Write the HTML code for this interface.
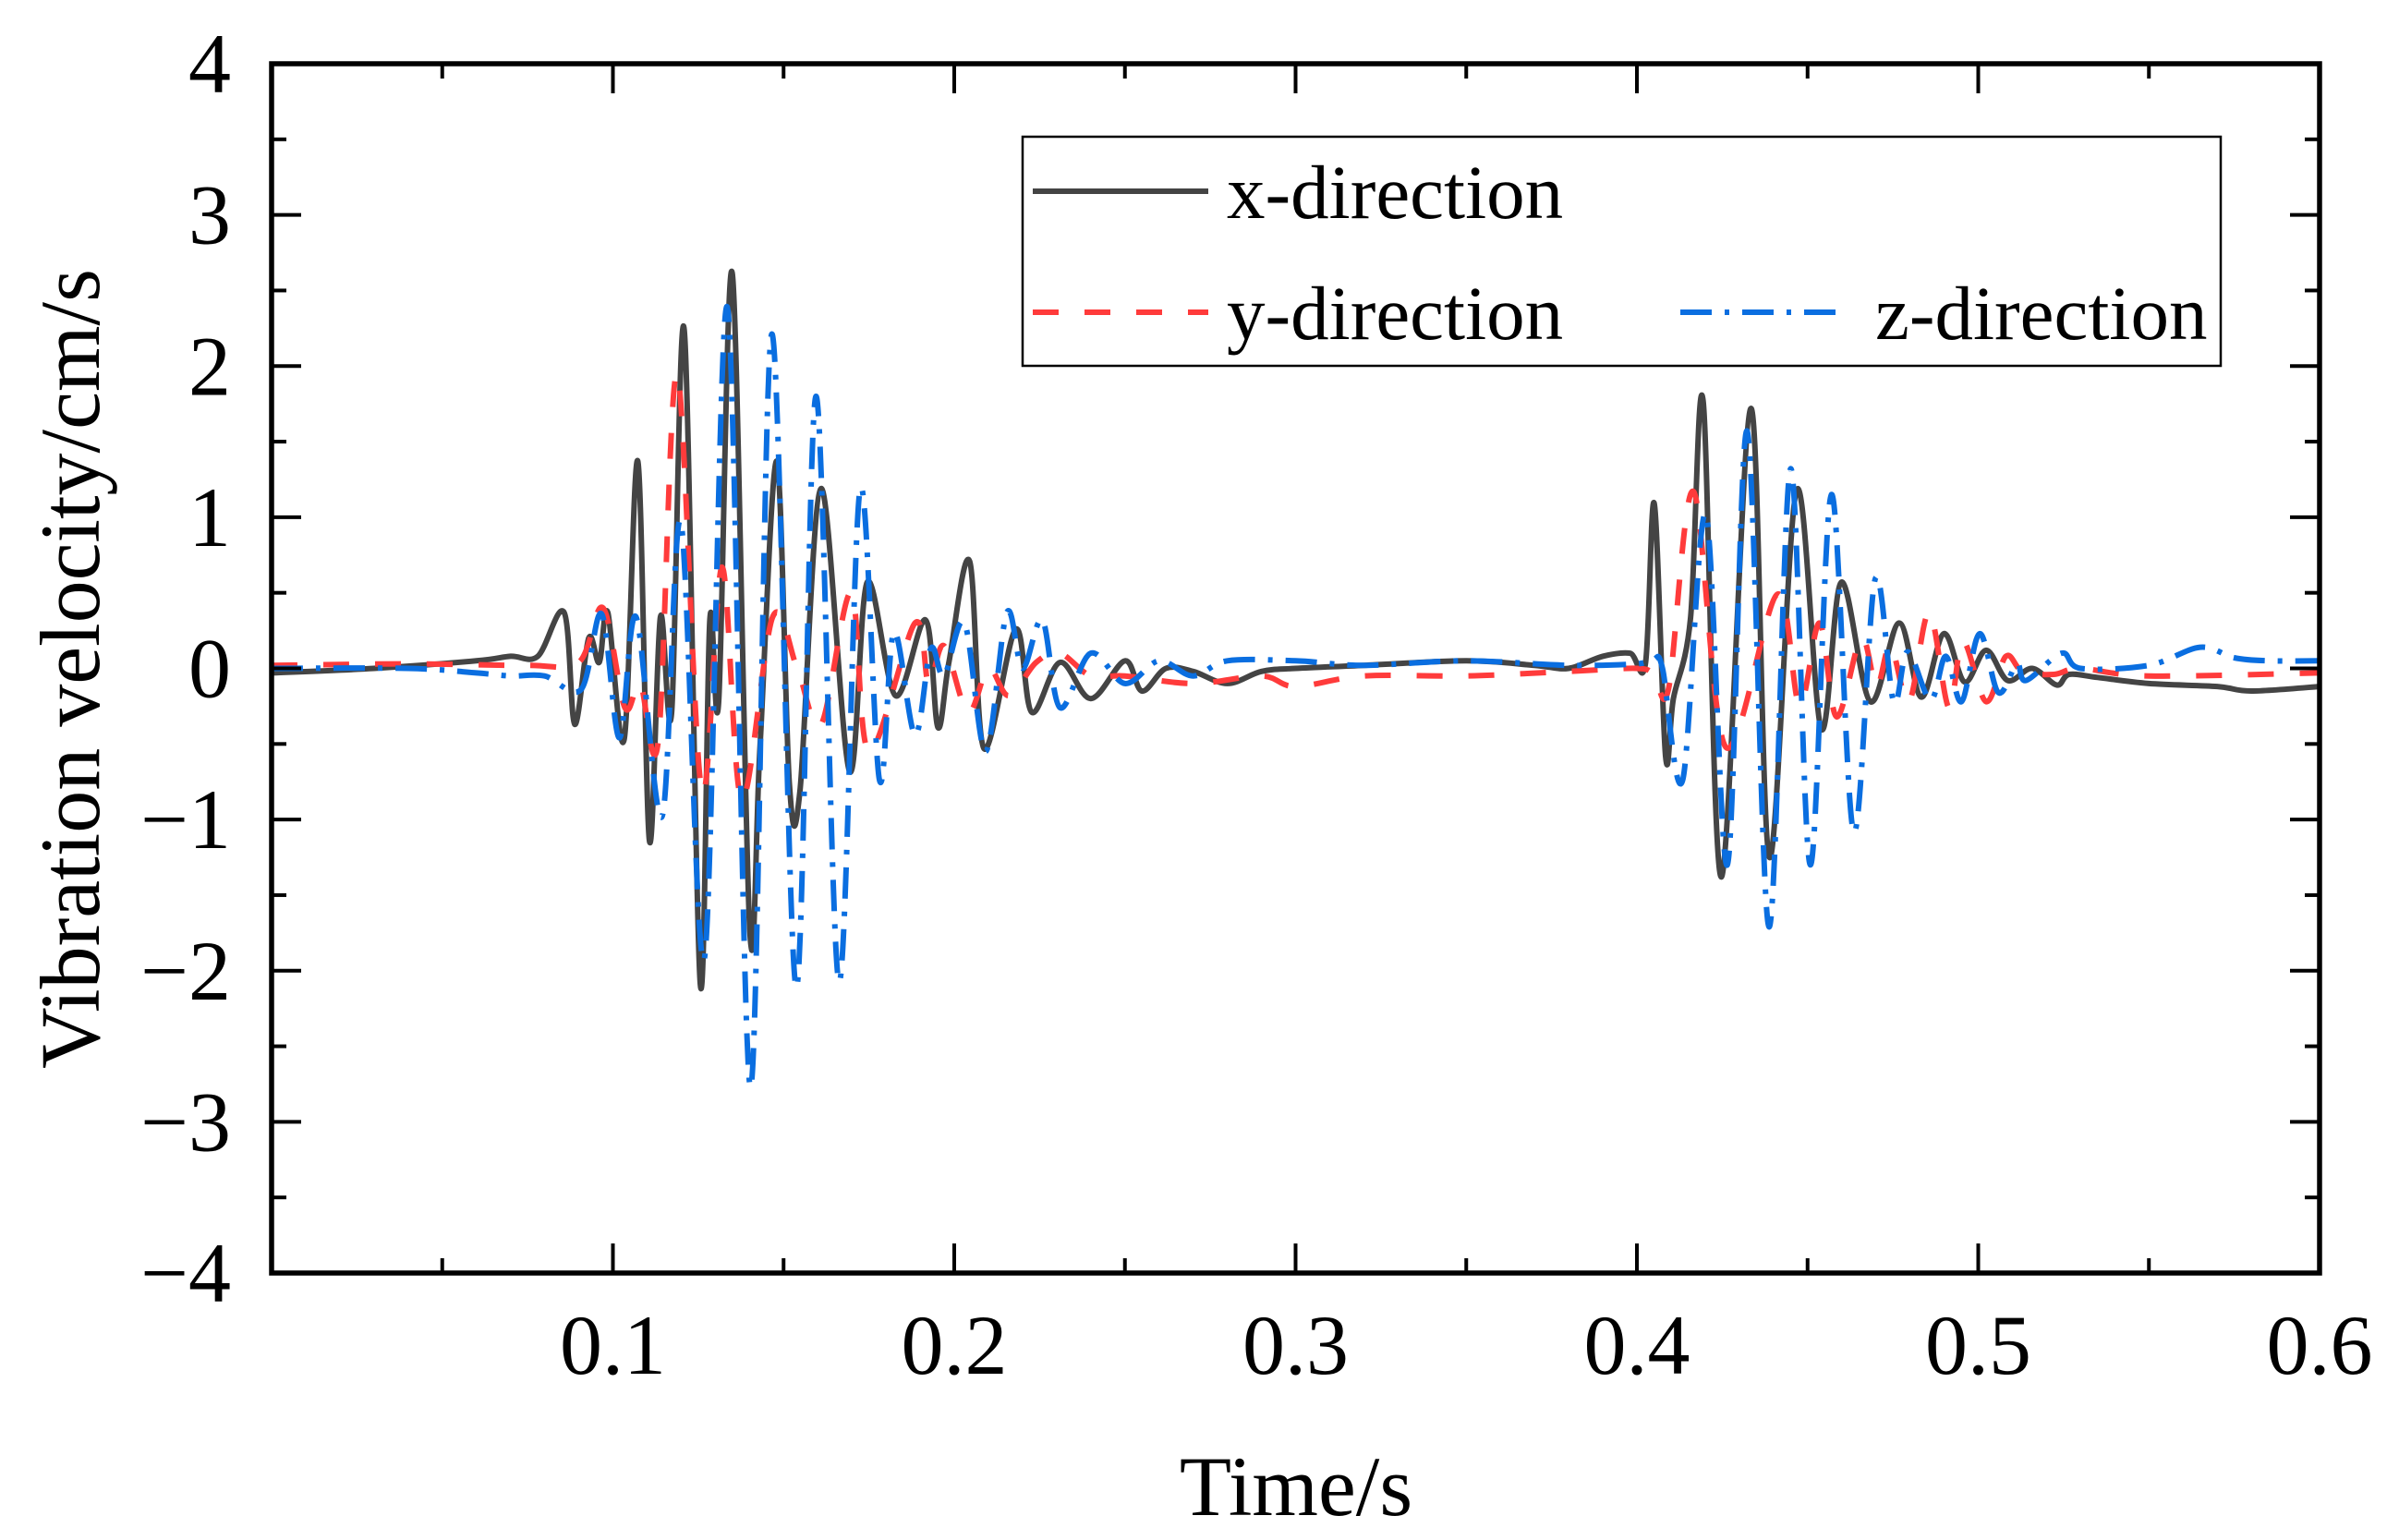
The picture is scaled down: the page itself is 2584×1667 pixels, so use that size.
<!DOCTYPE html>
<html><head><meta charset="utf-8"><title>Vibration velocity</title>
<style>
html,body{margin:0;padding:0;background:#fff;}
svg{display:block;font-family:"Liberation Serif","Times New Roman",serif;}
</style></head>
<body>
<svg id="chart" width="2584" height="1667" viewBox="0 0 2584 1667" xmlns="http://www.w3.org/2000/svg">
<defs><clipPath id="plotclip"><rect x="294" y="69" width="2217" height="1309"/></clipPath></defs>
<g id="series" clip-path="url(#plotclip)"></g>
<g id="axes"></g>
<text x="1403" y="1640" font-size="92" text-anchor="middle">Time/s</text>
<text transform="translate(107,724) rotate(-90)" font-size="92" text-anchor="middle">Vibration velocity/cm/s</text>
<g>
<rect x="1107" y="148" width="1297" height="248" fill="#fff" stroke="#000" stroke-width="2.5"/>
<g>
<line x1="1118" y1="207" x2="1308" y2="207" stroke="#444" stroke-width="6"/>
<text x="1328" y="236" font-size="83">x-direction</text></g>
<g>
<line x1="1118" y1="338" x2="1308" y2="338" stroke="#ff3b3b" stroke-width="6" stroke-dasharray="28 28"/>
<text x="1328" y="367" font-size="83">y-direction</text></g>
<g>
<line x1="1819" y1="338" x2="1994" y2="338" stroke="#0a6ee0" stroke-width="6" stroke-dasharray="34 14 5 14"/>
<text x="2030" y="367" font-size="83">z-direction</text></g>
</g>
</svg>
<script>
// ---- data ----
const xTimes = [0,0.03,0.06,0.07,0.078,0.0857,0.0888,0.0929,0.096,0.0985,0.1033,0.1073,0.1107,0.1139,0.1172,0.1209,0.1256,0.1284,0.131,0.135,0.1401,0.1431,0.148,0.1517,0.1548,0.161,0.1693,0.1745,0.1828,0.1916,0.1952,0.1985,0.2045,0.2087,0.218,0.2227,0.231,0.24,0.25,0.255,0.262,0.27,0.28,0.29,0.3,0.32,0.35,0.37,0.38,0.39,0.398,0.4025,0.4051,0.4084,0.4107,0.4157,0.4194,0.4247,0.4334,0.4388,0.4468,0.454,0.4599,0.4684,0.4768,0.4833,0.4899,0.496,0.5023,0.5086,0.5158,0.523,0.5266,0.535,0.55,0.57,0.58,0.6];
const xValues = [-0.03,0.0,0.05,0.08,0.08,0.37,-0.37,0.2,0.04,0.37,-0.47,1.37,-1.14,0.34,-0.29,2.24,-2.09,0.32,-0.22,2.61,-1.74,-0.51,1.37,-0.76,-0.81,1.19,-0.68,0.57,-0.18,0.32,-0.39,0.05,0.71,-0.53,0.26,-0.29,0.04,-0.2,0.05,-0.15,0.0,-0.02,-0.1,-0.02,0.0,0.02,0.05,0.02,0.0,0.08,0.1,0.03,1.09,-0.58,-0.2,0.33,1.77,-1.38,1.72,-1.25,1.18,-0.4,0.57,-0.22,0.3,-0.19,0.23,-0.09,0.12,-0.08,0.0,-0.11,-0.04,-0.06,-0.1,-0.12,-0.15,-0.12];

const yTimes = [0,0.04,0.075,0.09,0.0971,0.1035,0.108,0.1133,0.1188,0.126,0.132,0.1377,0.1468,0.154,0.161,0.1698,0.175,0.1885,0.1925,0.197,0.204,0.21,0.216,0.224,0.231,0.24,0.25,0.27,0.29,0.3,0.32,0.35,0.38,0.4,0.405,0.4093,0.4166,0.426,0.4411,0.4476,0.4535,0.4585,0.4657,0.4702,0.4743,0.4797,0.4856,0.4914,0.4955,0.5023,0.5081,0.513,0.5221,0.53,0.55,0.6];
const yValues = [0.02,0.03,0.02,0.04,0.4,-0.26,-0.1,-0.48,1.95,-0.81,0.67,-0.87,0.34,0.0,-0.37,0.5,-0.55,0.3,-0.1,0.15,-0.29,0.0,-0.18,0.04,0.1,-0.05,-0.05,-0.1,-0.05,-0.12,-0.05,-0.05,-0.02,0.0,-0.04,-0.13,1.17,-0.52,0.49,-0.24,0.3,-0.32,0.2,-0.12,0.15,-0.22,0.37,-0.26,0.18,-0.22,0.08,-0.02,-0.04,0.0,-0.05,-0.03];

const zTimes = [0,0.04,0.06,0.07,0.08,0.0907,0.0967,0.1019,0.1068,0.1144,0.1199,0.1268,0.1335,0.1403,0.1465,0.1537,0.1595,0.1662,0.1724,0.1781,0.1823,0.1885,0.1931,0.197,0.203,0.2092,0.2154,0.22,0.2258,0.231,0.24,0.25,0.26,0.27,0.28,0.3,0.32,0.35,0.38,0.4,0.4048,0.4075,0.4134,0.4202,0.4265,0.4323,0.4387,0.445,0.4508,0.457,0.4635,0.4698,0.4752,0.4793,0.486,0.4905,0.4951,0.5004,0.5059,0.5113,0.514,0.5244,0.53,0.55,0.565,0.575,0.585,0.6];
const zValues = [0.0,0.0,-0.03,-0.05,-0.05,-0.14,0.36,-0.46,0.34,-0.98,0.97,-1.92,2.39,-2.77,2.21,-2.11,1.8,-2.07,1.18,-0.74,0.24,-0.44,0.13,-0.05,0.3,-0.55,0.37,0.0,0.32,-0.26,0.1,-0.1,0.05,-0.05,0.05,0.05,0.02,0.05,0.02,0.03,0.06,0.0,-0.74,1.02,-1.3,1.57,-1.71,1.32,-1.3,1.15,-1.08,0.59,-0.22,0.11,-0.21,0.08,-0.22,0.23,-0.16,0.03,-0.08,0.1,0.0,0.02,0.14,0.07,0.05,0.05];

const xTickLabels = ["0.1","0.2","0.3","0.4","0.5","0.6"];
const yTickLabels = ["\u22124","\u22123","\u22122","\u22121","0","1","2","3","4"];

// ---- scales ----
const L=294,R=2511,T=69,B=1378;
const tMin=0,tMax=0.6,vMin=-4,vMax=4;
function sx(t){return L+(t-tMin)/(tMax-tMin)*(R-L);}
function sy(v){return B-(v-vMin)/(vMax-vMin)*(B-T);}
const NS="http://www.w3.org/2000/svg";

function catmull(pts){
  let d="M"+pts[0][0].toFixed(1)+","+pts[0][1].toFixed(1);
  for(let i=0;i<pts.length-1;i++){
    const p0=pts[Math.max(0,i-1)],p1=pts[i],p2=pts[i+1],p3=pts[Math.min(pts.length-1,i+2)];
    const c1x=p1[0]+(p2[0]-p0[0])/6,c1y=p1[1]+(p2[1]-p0[1])/6;
    const c2x=p2[0]-(p3[0]-p1[0])/6,c2y=p2[1]-(p3[1]-p1[1])/6;
    d+="C"+c1x.toFixed(1)+","+c1y.toFixed(1)+" "+c2x.toFixed(1)+","+c2y.toFixed(1)+" "+p2[0].toFixed(1)+","+p2[1].toFixed(1);
  }
  return d;
}
const seriesG=document.getElementById('series');
function addSeries(ts,vs,color,dash,name){
  const pts=ts.map((t,i)=>[sx(t),sy(vs[i])]);
  const p=document.createElementNS(NS,'path');
  p.setAttribute('d',catmull(pts));
  p.setAttribute('fill','none');
  p.setAttribute('stroke',color);
  p.setAttribute('stroke-width','6');
  p.setAttribute('stroke-linejoin','round');
  if(dash)p.setAttribute('stroke-dasharray',dash);
  
  
  seriesG.appendChild(p);
}
addSeries(xTimes,xValues,'#444444',null,'x-direction-line');
addSeries(yTimes,yValues,'#ff3b3b','28 28','y-direction-line');
addSeries(zTimes,zValues,'#0a6ee0','34 14 5 14','z-direction-line');

// ---- axes ----
const ax=document.getElementById('axes');
function line(x1,y1,x2,y2,w,name){
  const l=document.createElementNS(NS,'line');
  l.setAttribute('x1',x1);l.setAttribute('y1',y1);l.setAttribute('x2',x2);l.setAttribute('y2',y2);
  l.setAttribute('stroke','#000');l.setAttribute('stroke-width',w);
  
  
  ax.appendChild(l);
}
function text(x,y,s,anchor,name){
  const e=document.createElementNS(NS,'text');
  e.setAttribute('x',x);e.setAttribute('y',y);e.setAttribute('font-size','92');
  e.setAttribute('text-anchor',anchor);e.textContent=s;
  
  
  ax.appendChild(e);
}
for(let k=1;k<12;k++){
  const t=k*0.05, x=sx(t), len=(k%2===0)?32:16;
  line(x,B,x,B-len,4,'x-tick');
  line(x,T,x,T+len,4,'x-tick-top');
}
for(let k=1;k<16;k++){
  const v=-4+k*0.5, y=sy(v), len=(k%2===0)?32:16;
  line(L,y,L+len,y,4,'y-tick');
  line(R,y,R-len,y,4,'y-tick-right');
}
xTickLabels.forEach(s=>{text(sx(parseFloat(s)),1487,s,'middle','x-tick-label');});
yTickLabels.forEach(s=>{const v=parseFloat(s.replace('\u2212','-'));text(250,sy(v)+31,s,'end','y-tick-label');});
const frame=document.createElementNS(NS,'rect');
frame.setAttribute('x',L);frame.setAttribute('y',T);frame.setAttribute('width',R-L);frame.setAttribute('height',B-T);
frame.setAttribute('fill','none');frame.setAttribute('stroke','#000');frame.setAttribute('stroke-width','5.5');


ax.appendChild(frame);
</script>
</body></html>
